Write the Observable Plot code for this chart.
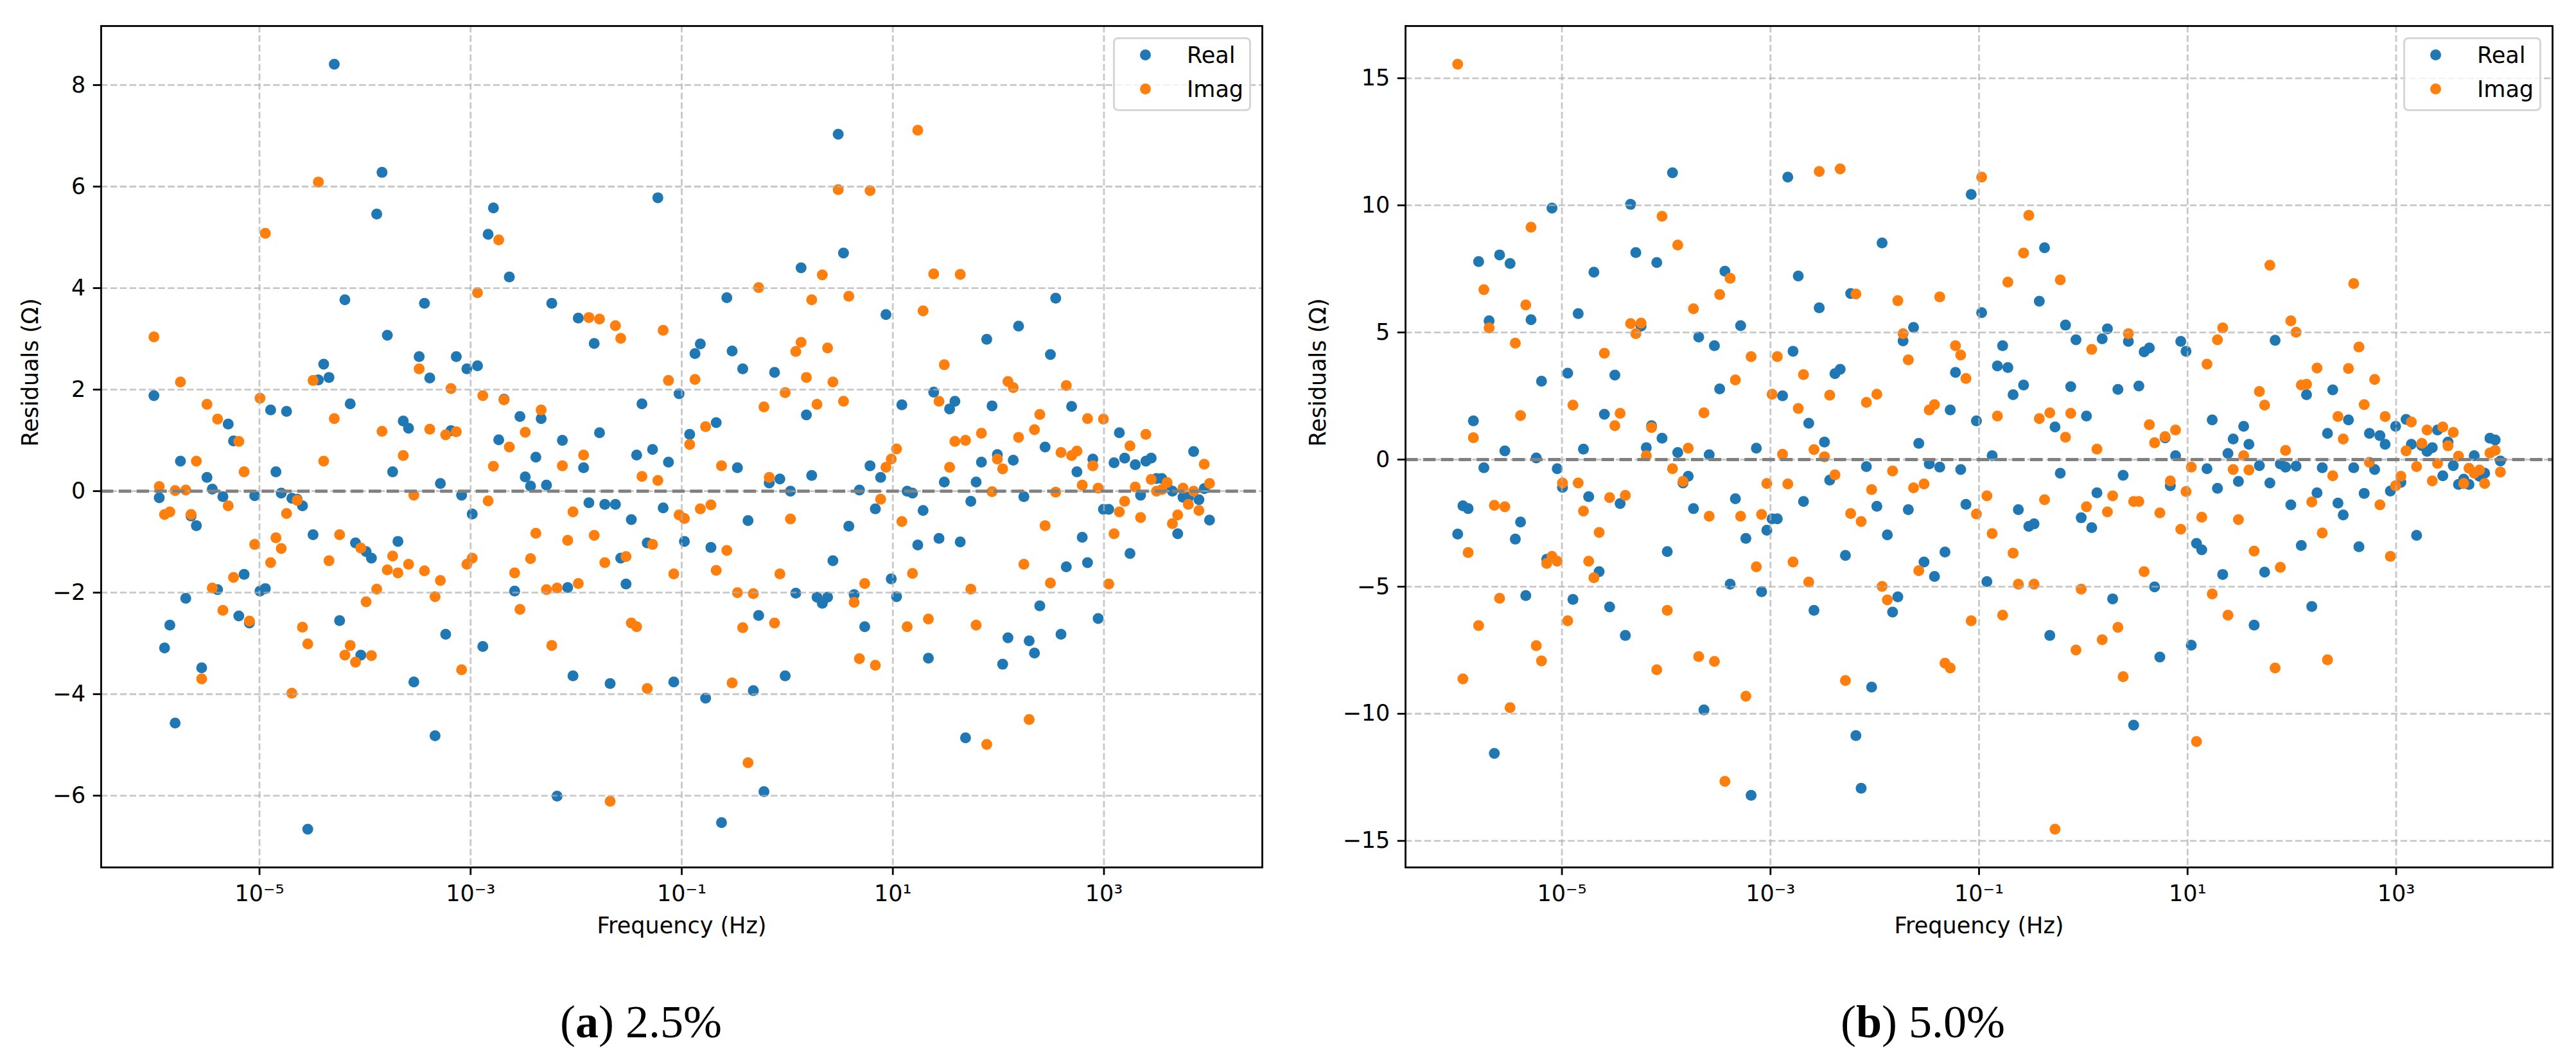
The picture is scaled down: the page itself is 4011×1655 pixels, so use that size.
<!DOCTYPE html>
<html>
<head>
<meta charset="utf-8">
<script src="https://cdn.jsdelivr.net/npm/d3@7"></script>
<script src="https://cdn.jsdelivr.net/npm/@observablehq/plot@0.6"></script>
<style>
  body { margin: 0; background: #ffffff; }
  #fig { position: relative; width: 4011px; height: 1655px; background: #ffffff; font-family: "DejaVu Sans", sans-serif; overflow: hidden; }
  .panel { position: absolute; top: 0; }
  .panel svg { overflow: visible; }
  .legend { position: absolute; box-sizing: border-box; border: 3.5px solid rgba(204,204,204,0.8); border-radius: 8px; background: rgba(255,255,255,0.8); }
  .legend .mk { position: absolute; border-radius: 50%; }
  .legend .lb { position: absolute; font-family: "DejaVu Sans", sans-serif; font-size: 35px; line-height: 35px; color: #000; white-space: nowrap; }
  .caption { position: absolute; font-family: "Liberation Serif", "Times New Roman", serif; font-size: 72px; line-height: 72px; color: #000; white-space: nowrap; transform: translateX(-50%); }
</style>
</head>
<body>
<div id="fig"></div>
<script>
// ---------- data ----------
// Frequency sampling grid: 200 log-spaced points from 1e-6 Hz to 1e4 Hz
const freqLogStart = -6, freqLogEnd = 4, nFreq = 200;
const frequency = d3.range(nFreq).map(i => 10 ** (freqLogStart + (freqLogEnd - freqLogStart) * i / (nFreq - 1)));

const seriesNames = ["Real", "Imag"];
const seriesColors = ["#1f77b4", "#ff7f0e"];
const captions = [["a", "2.5%"], ["b", "5.0%"]];

// Panel (a) 2.5% residuals
const realA = [
 1.88,-0.13,-3.09,-2.64,-4.57,0.59,-2.11,-0.49,-0.68,-3.48,
 0.27,0.04,-1.94,-0.11,1.32,0.99,-2.46,-1.64,-2.60,-0.09,
 -1.97,-1.92,1.60,0.38,-0.04,1.57,-0.14,-0.16,-0.29,-6.66,
 -0.86,2.19,2.50,2.24,8.41,-2.55,3.77,1.72,-1.02,-3.23,
 -1.19,-1.32,5.46,6.28,3.07,0.38,-0.99,1.38,1.24,-3.76,
 2.65,3.70,2.23,-4.82,0.15,-2.82,1.19,2.65,-0.08,2.41,
 -0.45,2.47,-3.06,5.06,5.58,1.01,1.81,4.22,-1.97,1.47,
 0.28,0.10,0.67,1.43,0.12,3.70,-6.01,1.00,-1.90,-3.64,
 3.41,0.46,-0.23,2.91,1.15,-0.26,-3.79,-0.26,-1.32,-1.83,
 -0.56,0.71,1.72,-1.02,0.82,5.78,-0.33,0.57,-3.76,1.92,
 -0.99,1.12,2.71,2.90,-4.08,-1.11,1.35,-6.53,3.81,2.76,
 0.46,2.41,-0.58,-3.93,-2.45,-5.92,0.16,2.34,0.24,-3.64,
 0.00,-2.01,4.40,1.50,0.31,-2.09,-2.21,-2.09,-1.37,7.03,
 4.69,-0.69,-2.04,0.02,-2.67,0.50,-0.35,0.27,3.48,-1.73,
 -2.08,1.70,0.00,-0.04,-1.06,-0.38,-3.29,1.95,-0.93,0.18,
 1.62,1.77,-1.00,-4.86,-0.20,0.18,0.57,2.99,1.68,0.72,
 -3.41,-2.89,0.61,3.25,-0.11,-2.95,-3.19,-2.26,0.87,2.69,
 3.80,-2.82,-1.49,1.67,0.38,-0.91,-1.41,0.63,-2.51,-0.36,
 -0.36,0.56,1.15,0.65,-1.23,0.52,-0.08,0.59,0.65,0.25,
 0.25,0.10,0.00,-0.84,-0.12,-0.12,0.78,-0.17,0.05,-0.57
];
const imagA = [
 3.04,0.09,-0.46,-0.41,0.01,2.15,0.02,-0.46,0.59,-3.70,
 1.71,-1.91,1.42,-2.35,-0.29,-1.70,0.98,0.38,-2.56,-1.05,
 1.83,5.08,-1.41,-0.92,-1.13,-0.44,-3.98,-0.18,-2.68,-3.01,
 2.18,6.09,0.59,-1.37,1.43,-0.86,-3.23,-3.04,-3.37,-1.12,
 -2.18,-3.24,-1.93,1.18,-1.55,-1.28,-1.61,0.70,-1.44,-0.08,
 2.41,-1.57,1.22,-2.08,-1.76,1.11,2.02,1.17,-3.52,-1.44,
 -1.32,3.91,1.88,-0.19,0.49,4.95,1.80,0.87,-1.61,-2.33,
 1.16,-1.33,-0.83,1.60,-1.94,-3.04,-1.91,0.50,-0.97,-0.41,
 -1.82,0.71,3.42,-0.87,3.39,-1.41,-6.11,3.26,3.01,-1.29,
 -2.60,-2.67,0.29,-3.89,-1.05,0.21,3.17,2.18,-1.63,-0.47,
 -0.54,0.92,2.20,-0.35,1.27,-0.27,-1.56,0.50,-1.17,-3.78,
 -2.00,-2.69,-5.35,-2.02,4.01,1.66,0.27,-2.60,-1.63,1.94,
 -0.55,2.75,2.93,2.24,3.77,1.71,4.26,2.82,2.15,5.94,
 1.77,3.84,-2.19,-3.30,-1.82,5.92,-3.43,-0.16,0.47,0.63,
 0.83,-0.60,-2.67,-1.62,7.11,3.55,-2.52,4.28,1.77,2.49,
 0.47,0.98,4.27,1.00,-1.93,-2.64,1.14,-4.99,-0.01,0.63,
 0.44,2.16,2.04,1.06,-1.44,-4.50,1.21,1.51,-0.68,-1.81,
 -0.02,0.76,2.08,0.70,0.79,0.12,1.43,0.50,0.06,1.42,
 -1.83,-0.84,-0.41,-0.20,0.89,0.08,-0.52,1.12,0.23,0.00,
 0.03,0.17,-0.64,-0.47,0.06,-0.26,0.00,-0.38,0.53,0.15
];

// Panel (b) 5.0% residuals
const realB = [
 -2.93,-1.82,-1.93,1.52,7.79,-0.32,5.46,-11.56,8.05,0.34,
 7.71,-3.13,-2.46,-5.35,5.50,0.06,3.08,-3.92,9.89,-0.36,
 -1.09,3.40,-5.50,5.74,0.41,-1.46,7.37,-4.41,1.78,-5.80,
 3.32,-1.73,-6.92,10.04,8.14,5.25,0.47,1.33,7.75,0.84,
 -3.62,11.28,0.28,-0.92,-0.66,-1.93,4.82,-9.85,0.19,4.48,
 2.78,7.41,-4.90,-1.54,5.27,-3.10,-13.21,0.45,-5.20,-2.78,
 -2.33,-2.33,2.51,11.11,4.26,7.22,-1.65,1.43,-5.93,5.97,
 0.69,-0.81,3.38,3.55,-3.77,6.53,-10.86,-12.93,-0.28,-8.95,
 -1.84,8.52,-2.96,-6.00,-5.40,4.67,-1.97,5.20,0.64,-4.03,
 -0.17,-4.60,-0.30,-3.64,1.95,3.43,-0.39,-1.76,10.43,1.52,
 5.78,-4.80,0.15,3.68,4.48,3.62,2.55,-1.97,2.93,-2.63,
 -2.53,6.23,8.33,-6.92,1.28,-0.54,5.29,2.87,4.71,-2.29,
 1.71,-2.68,-1.31,4.75,5.14,-5.48,2.76,-0.62,4.65,-10.45,
 2.89,4.24,4.39,-5.01,-7.77,0.85,-1.03,0.15,4.65,4.26,
 -7.30,-3.30,-3.55,-0.36,1.56,-1.13,-4.52,0.24,0.81,-0.86,
 1.31,0.60,-6.51,-0.24,-4.43,-0.92,4.69,-0.17,-0.30,-1.78,
 -0.26,-3.38,2.55,-5.78,-1.31,-0.32,1.03,2.74,-1.71,-2.18,
 1.56,-0.32,-3.43,-1.33,1.03,-0.39,0.94,0.60,-1.24,1.31,
 -0.90,1.58,0.60,-2.98,0.55,0.32,0.47,1.16,-0.64,0.69,
 -0.24,-0.98,-0.77,-0.98,0.15,-0.66,-0.54,0.84,0.77,-0.06
];
const imagB = [
 15.55,-8.63,-3.66,0.86,-6.53,6.68,5.18,-1.80,-5.46,-1.86,
 -9.76,4.58,1.73,6.08,9.14,-7.32,-7.92,-4.09,-3.81,-4.00,
 -0.92,-6.34,2.14,-0.92,-2.03,-4.00,-4.65,-2.87,4.18,-1.50,
 1.33,1.82,-1.41,5.35,4.95,5.37,0.15,1.26,-8.27,9.57,
 -5.93,-0.36,8.44,-0.86,0.45,5.93,-7.75,1.84,-2.23,-7.94,
 6.49,-12.66,7.13,3.13,-2.23,-9.31,4.05,-4.22,-2.16,-0.94,
 2.57,4.05,0.21,-0.96,-4.03,2.01,3.34,-4.82,0.39,11.33,
 0.11,2.53,-0.60,11.43,-8.69,-2.12,6.51,-2.44,2.25,-1.18,
 2.57,-4.99,-5.52,-0.45,6.25,4.95,3.92,-1.11,-4.37,-0.96,
 1.95,2.16,6.40,-8.01,-8.20,4.48,4.11,3.19,-6.34,-2.14,
 11.11,-1.43,-2.91,1.71,-6.12,6.98,-3.68,-4.90,8.12,9.61,
 -4.90,1.61,-1.58,1.84,-14.54,7.07,0.88,1.82,-7.49,-5.10,
 -1.86,4.33,0.41,-7.09,-2.06,-1.43,-6.60,-8.54,4.95,-1.65,
 -1.65,-4.41,1.37,0.66,-2.10,0.90,-0.84,1.16,-2.74,-1.26,
 -0.30,-11.09,-2.27,3.75,-5.29,4.71,5.18,-6.12,-0.39,-2.36,
 0.15,-0.41,-3.60,2.68,2.14,7.64,-8.20,-4.24,0.36,5.46,
 5.01,2.93,2.96,-1.67,3.60,-2.89,-7.88,-0.64,1.69,0.81,
 3.58,6.92,4.43,2.16,-0.11,3.15,-1.78,1.69,-3.81,-1.03,
 -0.66,0.34,1.48,-0.28,0.64,1.16,-0.84,-0.15,1.28,0.54,
 1.07,0.13,-0.94,-0.34,-0.54,-0.41,-0.94,0.26,0.36,-0.49
];

const xTicks = [1e-5, 1e-3, 1e-1, 1e1, 1e3];
const yTicksA = [-6, -4, -2, 0, 2, 4, 6, 8];
const yTicksB = [-15, -10, -5, 0, 5, 10, 15];

// ---------- helpers ----------
const SUP = {"-": "\u207B", "0": "\u2070", "1": "\u00B9", "2": "\u00B2", "3": "\u00B3", "4": "\u2074", "5": "\u2075", "6": "\u2076", "7": "\u2077", "8": "\u2078", "9": "\u2079"};
const logFmt = d => "10" + String(Math.round(Math.log10(d))).split("").map(c => SUP[c]).join("");

function padDomain(lo, hi, frac) { const p = (hi - lo) * frac; return [lo - p, hi + p]; }

const fig = document.getElementById("fig");

function makePanel({left, width, marginLeft, marginRight, real, imag, yTicks, ylabelDx, caption, captionX}) {
  const height = 1500, marginTop = 40, marginBottom = 150;
  const rows = frequency.map((f, i) => ({f, real: real[i], imag: imag[i]}));
  const allY = real.concat(imag);
  const yDom = padDomain(d3.min(allY), d3.max(allY), 0.05);
  const lx = padDomain(Math.log10(d3.min(frequency)), Math.log10(d3.max(frequency)), 0.05);
  const xDom = [10 ** lx[0], 10 ** lx[1]];

  const chart = Plot.plot({
    width, height, marginLeft, marginRight, marginTop, marginBottom,
    style: {fontFamily: "DejaVu Sans", fontSize: "35px", color: "#000", background: "transparent", overflow: "visible"},
    x: {type: "log", domain: xDom, label: null},
    y: {type: "linear", domain: yDom, label: null},
    marks: [
      Plot.dot(rows, {x: "f", y: "real", r: 8.5, fill: seriesColors[0], stroke: "none"}),
      Plot.dot(rows, {x: "f", y: "imag", r: 8.5, fill: seriesColors[1], stroke: "none"}),
      Plot.gridX({ticks: xTicks, stroke: "#b0b0b0", strokeOpacity: 0.7, strokeWidth: 2.8, strokeDasharray: "10.4,4.5"}),
      Plot.gridY({ticks: yTicks, stroke: "#b0b0b0", strokeOpacity: 0.7, strokeWidth: 2.8, strokeDasharray: "10.4,4.5"}),
      Plot.ruleY([0], {stroke: "#808080", strokeWidth: 5, strokeDasharray: "19.4,8.4"}),
      Plot.frame({stroke: "#000", strokeWidth: 2.8}),
      Plot.axisX({ticks: xTicks, tickFormat: logFmt, tickSize: 12.25, tickPadding: 15, strokeWidth: 2.8, fontSize: 35, label: null}),
      Plot.axisY({ticks: yTicks, tickSize: 12.25, tickPadding: 12, strokeWidth: 2.8, fontSize: 35, label: null}),
      Plot.text(["Frequency (Hz)"], {frameAnchor: "bottom", lineAnchor: "bottom", dy: 102, fontSize: 35, fill: "#000"}),
      Plot.text(["Residuals (\u03A9)"], {frameAnchor: "left", rotate: -90, dx: ylabelDx, fontSize: 35, fill: "#000"})
    ]
  });

  const wrap = document.createElement("div");
  wrap.className = "panel";
  wrap.style.left = left + "px";
  wrap.style.width = width + "px";
  wrap.style.height = height + "px";
  wrap.appendChild(chart);

  // legend (upper right, matplotlib-like)
  const frameRight = width - marginRight;
  const legW = 215, legH = 115;
  const lg = document.createElement("div");
  lg.className = "legend";
  lg.style.left = (frameRight - 17.5 - legW) + "px";
  lg.style.top = (marginTop + 17.5) + "px";
  lg.style.width = legW + "px";
  lg.style.height = legH + "px";
  seriesNames.forEach((name, k) => {
    const cy = 28 + k * 53;
    const mk = document.createElement("div");
    mk.className = "mk";
    mk.style.width = "17px"; mk.style.height = "17px";
    mk.style.left = (51 - 8.5 - 3.5) + "px";
    mk.style.top = (cy - 8.5 - 3.5) + "px";
    mk.style.background = seriesColors[k];
    lg.appendChild(mk);
    const lb = document.createElement("div");
    lb.className = "lb";
    lb.textContent = name;
    lb.style.left = (116 - 3.5) + "px";
    lb.style.top = (cy - 17.5 - 3.5 + 1) + "px";
    lg.appendChild(lb);
  });
  wrap.appendChild(lg);
  fig.appendChild(wrap);

  const cap = document.createElement("div");
  cap.className = "caption";
  cap.style.left = captionX + "px";
  cap.style.top = "1555px";
  cap.innerHTML = "(<b>" + caption[0] + "</b>) " + caption[1];
  fig.appendChild(cap);
}

makePanel({left: 0, width: 2000, marginLeft: 157, marginRight: 35, real: realA, imag: imagA, yTicks: yTicksA, ylabelDx: -110, caption: captions[0], captionX: 998});
makePanel({left: 2000, width: 2011, marginLeft: 188, marginRight: 37, real: realB, imag: imagB, yTicks: yTicksB, ylabelDx: -136, caption: captions[1], captionX: 2994});
</script>
</body>
</html>
